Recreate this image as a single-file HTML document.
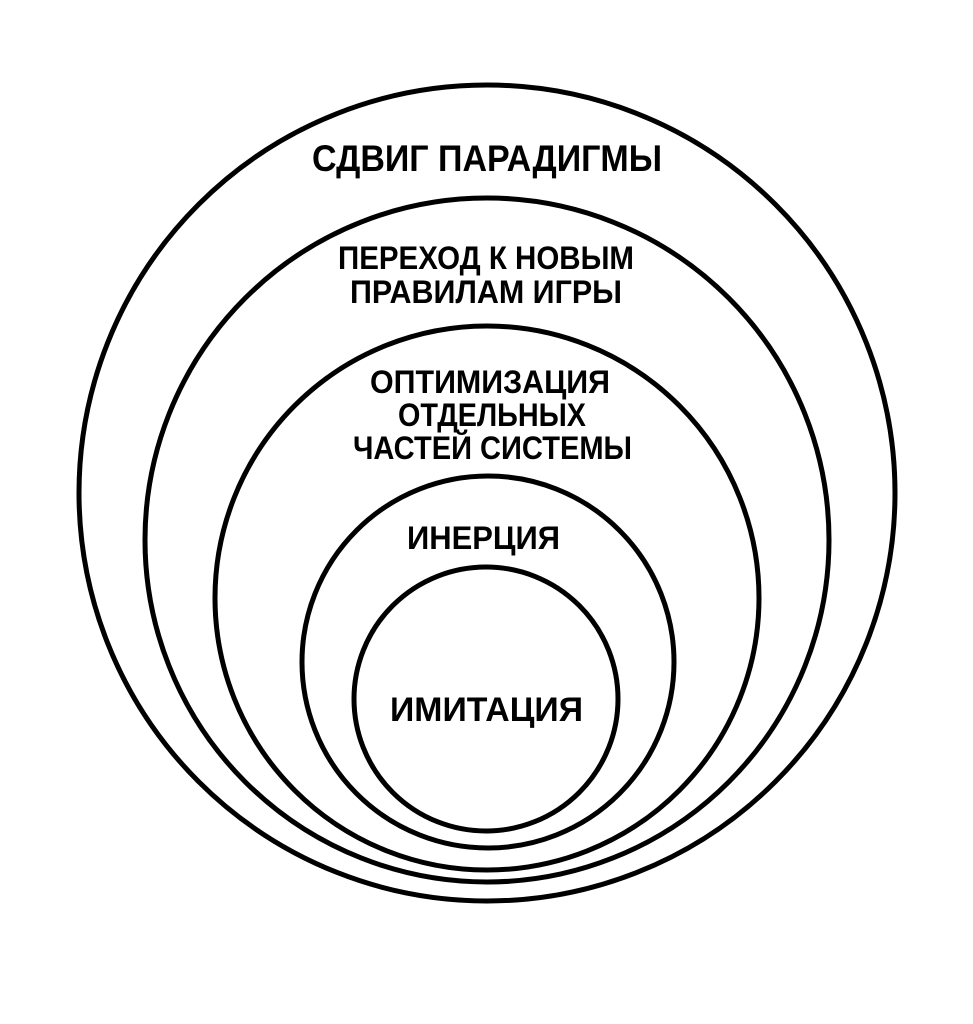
<!DOCTYPE html>
<html><head><meta charset="utf-8"><style>html,body{margin:0;padding:0;background:#fff}svg{display:block}</style></head>
<body>
<svg width="973" height="1024" viewBox="0 0 973 1024" xmlns="http://www.w3.org/2000/svg">
<g fill="none" stroke="#000" stroke-width="5">
<circle cx="487" cy="493" r="408"/>
<circle cx="487" cy="540" r="342"/>
<circle cx="487" cy="598" r="272"/>
<circle cx="488" cy="662" r="186"/>
<circle cx="486" cy="699" r="132"/>
</g>
<g font-family="'Liberation Sans Narrow','Liberation Sans',sans-serif" font-weight="bold" fill="#000" font-size="37">
<text x="312" y="171" textLength="350" lengthAdjust="spacingAndGlyphs">СДВИГ ПАРАДИГМЫ</text>
<text x="338" y="269" font-size="32" textLength="296" lengthAdjust="spacingAndGlyphs">ПЕРЕХОД К НОВЫМ</text>
<text x="350" y="303" font-size="32" textLength="272" lengthAdjust="spacingAndGlyphs">ПРАВИЛАМ ИГРЫ</text>
<text x="370" y="393" font-size="32" textLength="240" lengthAdjust="spacingAndGlyphs">ОПТИМИЗАЦИЯ</text>
<text x="398" y="426" font-size="32" textLength="188" lengthAdjust="spacingAndGlyphs">ОТДЕЛЬНЫХ</text>
<text x="353" y="459" font-size="32" textLength="279" lengthAdjust="spacingAndGlyphs">ЧАСТЕЙ СИСТЕМЫ</text>
<text x="407" y="549" font-size="32" textLength="153" lengthAdjust="spacingAndGlyphs">ИНЕРЦИЯ</text>
<text x="390" y="721" font-size="34" textLength="193" lengthAdjust="spacingAndGlyphs">ИМИТАЦИЯ</text>
</g>
</svg>
</body></html>
